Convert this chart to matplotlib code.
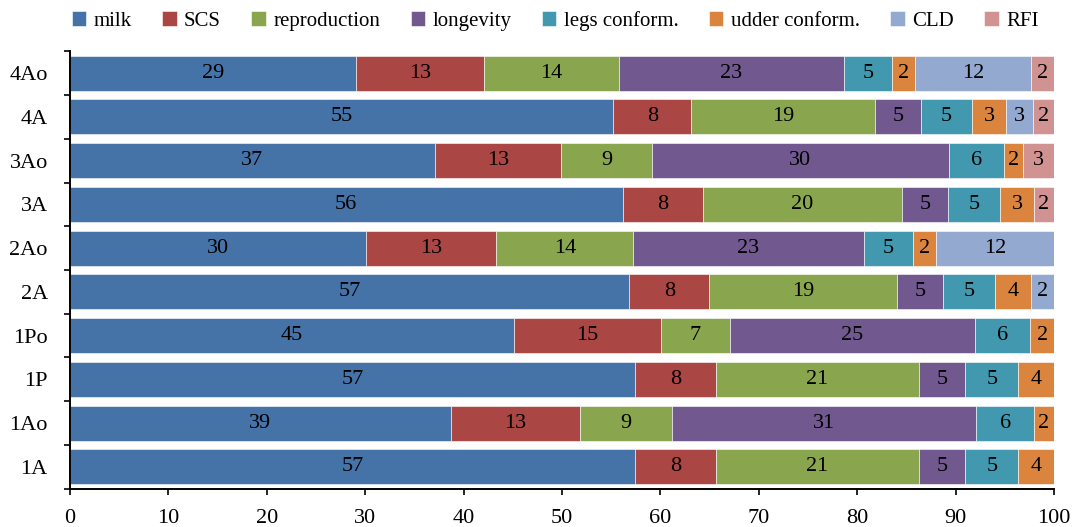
import matplotlib.pyplot as plt
import numpy as np

plt.rcParams['font.family'] = ['Liberation Serif', 'DejaVu Serif']

# categories from bottom to top
groups = ['1A', '1Ao', '1P', '1Po', '2A', '2Ao', '3A', '3Ao', '4A', '4Ao']

# share (%) of each trait
milk = [57.41, 38.7, 57.41, 45.11, 56.82, 30.12, 56.15, 37.06, 55.2, 29.07]
scs = [8.26, 13.16, 8.26, 14.97, 8.15, 13.21, 8.15, 12.84, 7.94, 13.0]
repro = [20.59, 9.28, 20.59, 6.96, 19.04, 13.91, 20.2, 9.2, 18.69, 13.69]
longevity = [4.71, 30.95, 4.71, 24.91, 4.75, 23.4, 4.75, 30.22, 4.64, 22.91]
legs = [5.41, 5.87, 5.41, 5.63, 5.27, 5.02, 5.27, 5.55, 5.2, 4.89]
udder = [3.62, 2.04, 3.62, 2.42, 3.58, 2.36, 3.44, 2.0, 3.45, 2.28]
cld = [0, 0, 0, 0, 2.39, 11.98, 0, 0, 2.7, 11.84]
rfi = [0, 0, 0, 0, 0, 0, 2.04, 3.13, 2.18, 2.32]

series = [milk, scs, repro, longevity, legs, udder, cld, rfi]
names = ['milk', 'SCS', 'reproduction', 'longevity', 'legs conform.',
         'udder conform.', 'CLD', 'RFI']
colors = ['#4572A7', '#AA4643', '#89A54E', '#71588F', '#4198AF',
          '#DB843D', '#93A9CF', '#D19392']

fs = 16

fig = plt.figure(figsize=(10.72, 5.27), dpi=100)
ax = fig.add_axes([0.0653, 0.0727, 0.918, 0.83])

y = np.arange(len(groups))
left = np.zeros(len(groups))
for vals, name, col in zip(series, names, colors):
    vals = np.array(vals)
    bars = ax.barh(y, vals, left=left, height=0.8, color=col, label=name,
                   edgecolor='white', linewidth=0.4)
    for b, v in zip(bars, vals):
        if v > 0:
            ax.text(b.get_x() + b.get_width() / 2, b.get_y() + b.get_height() / 2,
                    f'{round(v)}', ha='center', va='center', fontsize=fs,
                    color='black')
    left += vals

ax.set_xlim(0, 100)
ax.set_ylim(-0.5, len(groups) - 0.5)
ax.set_xticks(np.arange(0, 101, 10))
ax.set_yticks(y)
ax.set_yticklabels(groups)
ax.set_yticks(np.arange(-0.5, len(groups), 1), minor=True)
ax.tick_params(axis='y', which='major', length=0, pad=16, labelsize=fs)
ax.tick_params(axis='y', which='minor', length=4.5, width=1.2, direction='out')
ax.tick_params(axis='x', length=4.5, width=1.2, direction='out', labelsize=fs, pad=10)

for s in ['top', 'right']:
    ax.spines[s].set_visible(False)
for s in ['left', 'bottom']:
    ax.spines[s].set_linewidth(1.4)

ax.legend(loc='center', bbox_to_anchor=(0.493, 1.07), ncol=8, frameon=False,
          fontsize=15, handlelength=0.7, handleheight=0.7,
          handletextpad=0.35, columnspacing=1.46, borderaxespad=0)

fig.savefig('out.png', dpi=100)
